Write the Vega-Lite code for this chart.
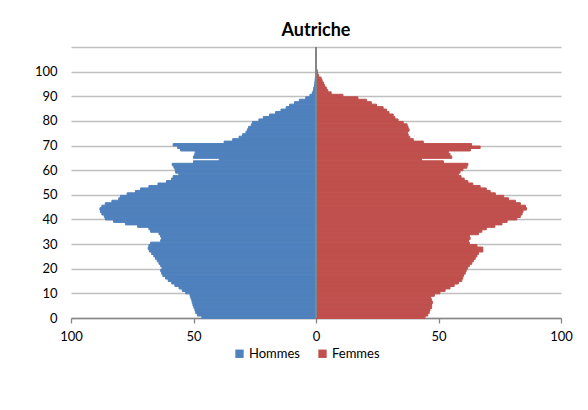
{
  "$schema": "https://vega.github.io/schema/vega-lite/v6.json",
  "width": 490,
  "height": 271,
  "autosize": "none",
  "padding": {"left": 71, "top": 47, "right": 27, "bottom": 92},
  "background": "white",
  "config": {
    "font": "Lato",
    "view": {"stroke": null},
    "axis": {"labelFont": "Lato", "labelFontSize": 13, "labelColor": "black"},
    "legend": {"labelFont": "Lato", "labelFontSize": 13}
  },
  "title": {"text": "Autriche", "fontSize": 18, "fontWeight": "bold", "font": "Lato", "anchor": "middle", "offset": 6, "color": "black"},
  "datasets": {
    "pop": [
      {"age":0,"sexe":"Hommes","pop":-46.6},{"age":1,"sexe":"Hommes","pop":-48.4},{"age":2,"sexe":"Hommes","pop":-49.1},{"age":3,"sexe":"Hommes","pop":-49.4},{"age":4,"sexe":"Hommes","pop":-49.8},
      {"age":5,"sexe":"Hommes","pop":-50.2},{"age":6,"sexe":"Hommes","pop":-50.5},{"age":7,"sexe":"Hommes","pop":-50.7},{"age":8,"sexe":"Hommes","pop":-51.1},{"age":9,"sexe":"Hommes","pop":-51.4},
      {"age":10,"sexe":"Hommes","pop":-53.2},{"age":11,"sexe":"Hommes","pop":-54.6},{"age":12,"sexe":"Hommes","pop":-55.9},{"age":13,"sexe":"Hommes","pop":-57.6},{"age":14,"sexe":"Hommes","pop":-58.9},
      {"age":15,"sexe":"Hommes","pop":-60.3},{"age":16,"sexe":"Hommes","pop":-61.4},{"age":17,"sexe":"Hommes","pop":-62.5},{"age":18,"sexe":"Hommes","pop":-63.0},{"age":19,"sexe":"Hommes","pop":-63.4},
      {"age":20,"sexe":"Hommes","pop":-62.8},{"age":21,"sexe":"Hommes","pop":-63.4},{"age":22,"sexe":"Hommes","pop":-64.1},{"age":23,"sexe":"Hommes","pop":-64.8},{"age":24,"sexe":"Hommes","pop":-65.5},
      {"age":25,"sexe":"Hommes","pop":-66.2},{"age":26,"sexe":"Hommes","pop":-67.1},{"age":27,"sexe":"Hommes","pop":-68.0},{"age":28,"sexe":"Hommes","pop":-68.5},{"age":29,"sexe":"Hommes","pop":-68.2},
      {"age":30,"sexe":"Hommes","pop":-67.5},{"age":31,"sexe":"Hommes","pop":-63.4},{"age":32,"sexe":"Hommes","pop":-63.0},{"age":33,"sexe":"Hommes","pop":-63.4},{"age":34,"sexe":"Hommes","pop":-64.1},
      {"age":35,"sexe":"Hommes","pop":-67.5},{"age":36,"sexe":"Hommes","pop":-68.2},{"age":37,"sexe":"Hommes","pop":-72.8},{"age":38,"sexe":"Hommes","pop":-77.8},{"age":39,"sexe":"Hommes","pop":-82.6},
      {"age":40,"sexe":"Hommes","pop":-86.0},{"age":41,"sexe":"Hommes","pop":-86.4},{"age":42,"sexe":"Hommes","pop":-87.4},{"age":43,"sexe":"Hommes","pop":-88.0},{"age":44,"sexe":"Hommes","pop":-88.2},
      {"age":45,"sexe":"Hommes","pop":-87.4},{"age":46,"sexe":"Hommes","pop":-86.0},{"age":47,"sexe":"Hommes","pop":-83.3},{"age":48,"sexe":"Hommes","pop":-80.5},{"age":49,"sexe":"Hommes","pop":-79.8},
      {"age":50,"sexe":"Hommes","pop":-77.1},{"age":51,"sexe":"Hommes","pop":-73.7},{"age":52,"sexe":"Hommes","pop":-71.6},{"age":53,"sexe":"Hommes","pop":-68.2},{"age":54,"sexe":"Hommes","pop":-64.5},
      {"age":55,"sexe":"Hommes","pop":-61.0},{"age":56,"sexe":"Hommes","pop":-59.0},{"age":57,"sexe":"Hommes","pop":-58.3},{"age":58,"sexe":"Hommes","pop":-56.0},{"age":59,"sexe":"Hommes","pop":-57.3},
      {"age":60,"sexe":"Hommes","pop":-57.5},{"age":61,"sexe":"Hommes","pop":-58.0},{"age":62,"sexe":"Hommes","pop":-58.7},{"age":63,"sexe":"Hommes","pop":-50.0},{"age":64,"sexe":"Hommes","pop":-39.5},
      {"age":65,"sexe":"Hommes","pop":-50.0},{"age":66,"sexe":"Hommes","pop":-49.5},{"age":67,"sexe":"Hommes","pop":-49.3},{"age":68,"sexe":"Hommes","pop":-55.3},{"age":69,"sexe":"Hommes","pop":-56.5},
      {"age":70,"sexe":"Hommes","pop":-58.3},{"age":71,"sexe":"Hommes","pop":-37.5},{"age":72,"sexe":"Hommes","pop":-34.0},{"age":73,"sexe":"Hommes","pop":-31.4},{"age":74,"sexe":"Hommes","pop":-30.0},
      {"age":75,"sexe":"Hommes","pop":-28.6},{"age":76,"sexe":"Hommes","pop":-28.0},{"age":77,"sexe":"Hommes","pop":-27.5},{"age":78,"sexe":"Hommes","pop":-26.4},{"age":79,"sexe":"Hommes","pop":-25.9},
      {"age":80,"sexe":"Hommes","pop":-23.3},{"age":81,"sexe":"Hommes","pop":-21.5},{"age":82,"sexe":"Hommes","pop":-19.0},{"age":83,"sexe":"Hommes","pop":-16.5},{"age":84,"sexe":"Hommes","pop":-14.3},
      {"age":85,"sexe":"Hommes","pop":-12.2},{"age":86,"sexe":"Hommes","pop":-10.8},{"age":87,"sexe":"Hommes","pop":-8.8},{"age":88,"sexe":"Hommes","pop":-6.8},{"age":89,"sexe":"Hommes","pop":-4.2},
      {"age":90,"sexe":"Hommes","pop":-2.5},{"age":91,"sexe":"Hommes","pop":-1.5},{"age":92,"sexe":"Hommes","pop":-1.1},{"age":93,"sexe":"Hommes","pop":-0.9},{"age":94,"sexe":"Hommes","pop":-0.6},
      {"age":95,"sexe":"Hommes","pop":-0.5},{"age":96,"sexe":"Hommes","pop":-0.4},{"age":97,"sexe":"Hommes","pop":-0.3},{"age":98,"sexe":"Hommes","pop":-0.2},{"age":99,"sexe":"Hommes","pop":-0.1},
      {"age":100,"sexe":"Hommes","pop":-0.1},
      {"age":0,"sexe":"Femmes","pop":44.5},{"age":1,"sexe":"Femmes","pop":45.6},{"age":2,"sexe":"Femmes","pop":46.2},{"age":3,"sexe":"Femmes","pop":46.5},{"age":4,"sexe":"Femmes","pop":47.2},
      {"age":5,"sexe":"Femmes","pop":47.2},{"age":6,"sexe":"Femmes","pop":47.5},{"age":7,"sexe":"Femmes","pop":47.2},{"age":8,"sexe":"Femmes","pop":46.8},{"age":9,"sexe":"Femmes","pop":48.3},
      {"age":10,"sexe":"Femmes","pop":50.6},{"age":11,"sexe":"Femmes","pop":52.7},{"age":12,"sexe":"Femmes","pop":54.7},{"age":13,"sexe":"Femmes","pop":56.4},{"age":14,"sexe":"Femmes","pop":58.1},
      {"age":15,"sexe":"Femmes","pop":59.5},{"age":16,"sexe":"Femmes","pop":59.9},{"age":17,"sexe":"Femmes","pop":60.2},{"age":18,"sexe":"Femmes","pop":60.9},{"age":19,"sexe":"Femmes","pop":61.3},
      {"age":20,"sexe":"Femmes","pop":61.8},{"age":21,"sexe":"Femmes","pop":62.6},{"age":22,"sexe":"Femmes","pop":63.6},{"age":23,"sexe":"Femmes","pop":64.3},{"age":24,"sexe":"Femmes","pop":65.0},
      {"age":25,"sexe":"Femmes","pop":65.7},{"age":26,"sexe":"Femmes","pop":66.3},{"age":27,"sexe":"Femmes","pop":68.1},{"age":28,"sexe":"Femmes","pop":68.1},{"age":29,"sexe":"Femmes","pop":65.7},
      {"age":30,"sexe":"Femmes","pop":62.6},{"age":31,"sexe":"Femmes","pop":62.2},{"age":32,"sexe":"Femmes","pop":62.9},{"age":33,"sexe":"Femmes","pop":62.6},{"age":34,"sexe":"Femmes","pop":66.3},
      {"age":35,"sexe":"Femmes","pop":67.7},{"age":36,"sexe":"Femmes","pop":69.5},{"age":37,"sexe":"Femmes","pop":73.0},{"age":38,"sexe":"Femmes","pop":75.9},{"age":39,"sexe":"Femmes","pop":78.0},
      {"age":40,"sexe":"Femmes","pop":82.0},{"age":41,"sexe":"Femmes","pop":83.4},{"age":42,"sexe":"Femmes","pop":84.1},{"age":43,"sexe":"Femmes","pop":84.5},{"age":44,"sexe":"Femmes","pop":85.9},
      {"age":45,"sexe":"Femmes","pop":85.5},{"age":46,"sexe":"Femmes","pop":83.4},{"age":47,"sexe":"Femmes","pop":81.4},{"age":48,"sexe":"Femmes","pop":78.6},{"age":49,"sexe":"Femmes","pop":76.6},
      {"age":50,"sexe":"Femmes","pop":73.2},{"age":51,"sexe":"Femmes","pop":71.1},{"age":52,"sexe":"Femmes","pop":69.5},{"age":53,"sexe":"Femmes","pop":67.0},{"age":54,"sexe":"Femmes","pop":64.0},
      {"age":55,"sexe":"Femmes","pop":62.0},{"age":56,"sexe":"Femmes","pop":60.5},{"age":57,"sexe":"Femmes","pop":59.2},{"age":58,"sexe":"Femmes","pop":58.1},{"age":59,"sexe":"Femmes","pop":58.8},
      {"age":60,"sexe":"Femmes","pop":60.0},{"age":61,"sexe":"Femmes","pop":61.6},{"age":62,"sexe":"Femmes","pop":62.0},{"age":63,"sexe":"Femmes","pop":52.0},{"age":64,"sexe":"Femmes","pop":43.1},
      {"age":65,"sexe":"Femmes","pop":55.4},{"age":66,"sexe":"Femmes","pop":54.7},{"age":67,"sexe":"Femmes","pop":54.0},{"age":68,"sexe":"Femmes","pop":63.0},{"age":69,"sexe":"Femmes","pop":67.0},
      {"age":70,"sexe":"Femmes","pop":63.5},{"age":71,"sexe":"Femmes","pop":43.8},{"age":72,"sexe":"Femmes","pop":39.7},{"age":73,"sexe":"Femmes","pop":38.3},{"age":74,"sexe":"Femmes","pop":37.6},
      {"age":75,"sexe":"Femmes","pop":37.4},{"age":76,"sexe":"Femmes","pop":38.0},{"age":77,"sexe":"Femmes","pop":37.6},{"age":78,"sexe":"Femmes","pop":37.2},{"age":79,"sexe":"Femmes","pop":35.6},
      {"age":80,"sexe":"Femmes","pop":33.5},{"age":81,"sexe":"Femmes","pop":32.2},{"age":82,"sexe":"Femmes","pop":31.5},{"age":83,"sexe":"Femmes","pop":29.8},{"age":84,"sexe":"Femmes","pop":28.8},
      {"age":85,"sexe":"Femmes","pop":27.4},{"age":86,"sexe":"Femmes","pop":24.7},{"age":87,"sexe":"Femmes","pop":22.6},{"age":88,"sexe":"Femmes","pop":20.6},{"age":89,"sexe":"Femmes","pop":17.1},
      {"age":90,"sexe":"Femmes","pop":11.0},{"age":91,"sexe":"Femmes","pop":6.2},{"age":92,"sexe":"Femmes","pop":4.8},{"age":93,"sexe":"Femmes","pop":4.2},{"age":94,"sexe":"Femmes","pop":3.5},
      {"age":95,"sexe":"Femmes","pop":3.1},{"age":96,"sexe":"Femmes","pop":2.5},{"age":97,"sexe":"Femmes","pop":2.1},{"age":98,"sexe":"Femmes","pop":1.1},{"age":99,"sexe":"Femmes","pop":0.7},
      {"age":100,"sexe":"Femmes","pop":0.5}
    ]
  },
  "data": {"name": "pop"},
  "layer": [
    {
      "mark": {"type": "bar", "binSpacing": 0, "strokeWidth": 1},
      "encoding": {
        "y": {"field": "age", "type": "quantitative", "bin": {"binned": true, "step": 1},
              "scale": {"domain": [0, 110], "nice": false},
              "axis": {"title": null, "values": [0,10,20,30,40,50,60,70,80,90,100,110],
                       "labelExpr": "datum.value == 110 ? '' : datum.label",
                       "domain": false, "ticks": false, "grid": true, "gridColor": "#bfbfbf", "gridWidth": 1.3,
                       "labelPadding": 14, "labelFlush": false}},
        "x": {"field": "pop", "type": "quantitative", "stack": null,
              "scale": {"domain": [-100, 100], "nice": false},
              "axis": {"title": null, "values": [-100, -50, 0, 50, 100],
                       "labelExpr": "abs(datum.value)", "grid": false, "labelFlush": false,
                       "domainColor": "#868686", "domainWidth": 1.3, "tickColor": "#868686", "tickWidth": 1.3, "tickSize": 5,
                       "labelPadding": 7}},
        "color": {"field": "sexe", "type": "nominal",
                  "scale": {"domain": ["Hommes", "Femmes"], "range": ["#4F81BD", "#C0504D"]},
                  "legend": {"title": null, "orient": "none", "direction": "horizontal", "legendX": 162, "legendY": 300,
                             "symbolType": "square", "symbolSize": 70, "symbolOpacity": 1, "symbolStrokeWidth": 0,
                             "labelOffset": 3, "columnPadding": 16, "labelColor": "black"}},
        "stroke": {"field": "sexe", "type": "nominal", "scale": {"domain": ["Hommes", "Femmes"], "range": ["#4F81BD", "#C0504D"]}, "legend": null}
      }
    },
    {
      "mark": {"type": "rule", "color": "#868686", "strokeWidth": 1.3},
      "encoding": {"x": {"datum": 0}}
    }
  ]
}
